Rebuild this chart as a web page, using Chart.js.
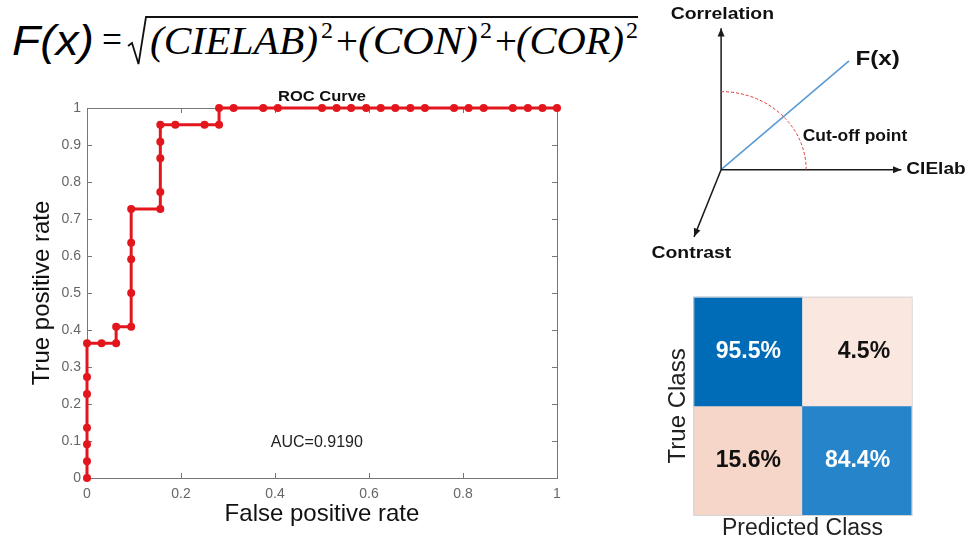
<!DOCTYPE html>
<html>
<head>
<meta charset="utf-8">
<script src="https://cdn.jsdelivr.net/npm/chart.js@4.4.1/dist/chart.umd.min.js"></script>
<style>
  html, body { margin: 0; padding: 0; background: #fff; }
  #page { position: relative; width: 968px; height: 542px; overflow: hidden; background: #fff; }
  #formula { position: absolute; left: 0; top: 0; }
  #roc { position: absolute; left: 0; top: 0; }
  #axes3d { position: absolute; left: 640px; top: 0; }
  #confusion { position: absolute; left: 660px; top: 280px; }
</style>
</head>
<body>
<div id="page">
  <svg id="formula" width="660" height="80">
    <text x="12" y="55" font-family="Liberation Sans" font-style="italic" font-size="42" textLength="82" lengthAdjust="spacingAndGlyphs">F(x)</text>
    <text x="102" y="53" font-family="Liberation Serif" font-size="40" textLength="20" lengthAdjust="spacingAndGlyphs">=</text>
    <polyline points="128,46 132,43 138.5,64 146,17 638,17" fill="none" stroke="#111" stroke-width="1.8"/>
    <text x="150" y="54" font-family="Liberation Serif" font-style="italic" font-size="39" textLength="168" lengthAdjust="spacingAndGlyphs">(CIELAB)</text>
    <text x="321" y="38" font-family="Liberation Serif" font-size="24">2</text>
    <text x="336" y="54" font-family="Liberation Serif" font-size="39">+</text>
    <text x="358" y="54" font-family="Liberation Serif" font-style="italic" font-size="39" textLength="120" lengthAdjust="spacingAndGlyphs">(CON)</text>
    <text x="480" y="38" font-family="Liberation Serif" font-size="24">2</text>
    <text x="495" y="54" font-family="Liberation Serif" font-size="39">+</text>
    <text x="516" y="54" font-family="Liberation Serif" font-style="italic" font-size="39" textLength="108" lengthAdjust="spacingAndGlyphs">(COR)</text>
    <text x="626" y="38" font-family="Liberation Serif" font-size="24">2</text>
  </svg>
  <canvas id="roc" width="580" height="542"></canvas>
  <canvas id="axes3d" width="328" height="280"></canvas>
  <canvas id="confusion" width="308" height="262"></canvas>
</div>
<script>
// ROC curve points (false positive rate / true positive rate)
const fpr = [0, 0, 0, 0, 0, 0, 0,
  0.031, 0.062, 0.062, 0.094, 0.094, 0.094, 0.094, 0.094,
  0.156, 0.156, 0.156, 0.156, 0.156,
  0.188, 0.25, 0.281, 0.281,
  0.312, 0.375, 0.406, 0.5, 0.531, 0.562, 0.594, 0.625, 0.656, 0.688, 0.719,
  0.781, 0.812, 0.844, 0.906, 0.938, 0.969, 1];
const tpr = [0, 0.045, 0.091, 0.136, 0.227, 0.273, 0.364,
  0.364, 0.364, 0.409, 0.409, 0.5, 0.591, 0.636, 0.727,
  0.727, 0.773, 0.864, 0.909, 0.955,
  0.955, 0.955, 0.955, 1,
  1, 1, 1, 1, 1, 1, 1, 1, 1, 1, 1,
  1, 1, 1, 1, 1, 1, 1];
const aucText = 'AUC=0.9190';

// schematic: axis tips (origin at 0,0), F(x) direction, cut-off arc radii
const axisNames = ['CIElab', 'Correlation', 'Contrast'];
const axisTipX = [1, 0, -0.15];
const axisTipY = [0, 1, -0.475];
const fxTip = [0.71, 0.77];
const cutoffRadius = [0.472, 0.552];

// confusion matrix (rows = true class, cols = predicted class), percent
const predictedClasses = ['1', '2'];
const cmRow1 = [95.5, 4.5];
const cmRow2 = [15.6, 84.4];

const FONT = '"Liberation Sans", Arial, sans-serif';
Chart.defaults.font.family = FONT;
const rocRed = 'rgb(226, 22, 28)';

function stretchedText(ctx, text, x, y, font, color, align, sx) {
    ctx.save();
    ctx.translate(x, y);
    ctx.scale(sx, 1);
    ctx.font = font;
    ctx.fillStyle = color;
    ctx.textAlign = align;
    ctx.textBaseline = 'middle';
    ctx.fillText(text, 0, 0);
    ctx.restore();
}

// matlab prints 0, 0.2 ... 1 (no trailing zeros)
const plainTick = v => String(Number(v.toFixed(2)));

// MATLAB style box with inward ticks, title and AUC note
const rocFrame = {
    id: 'rocFrame',
    beforeDatasetsDraw(chart) {
        const { ctx, chartArea: a, scales: { x, y } } = chart;
        ctx.save();
        ctx.strokeStyle = '#777';
        ctx.lineWidth = 1;
        ctx.strokeRect(Math.round(a.left) + 0.5, Math.round(a.top) + 0.5, Math.round(a.width), Math.round(a.height));
        ctx.beginPath();
        x.ticks.forEach(t => {
            const px = Math.round(x.getPixelForValue(t.value)) + 0.5;
            ctx.moveTo(px, a.bottom); ctx.lineTo(px, a.bottom - 5);
            ctx.moveTo(px, a.top); ctx.lineTo(px, a.top + 5);
        });
        y.ticks.forEach(t => {
            const py = Math.round(y.getPixelForValue(t.value)) + 0.5;
            ctx.moveTo(a.left, py); ctx.lineTo(a.left + 5, py);
            ctx.moveTo(a.right, py); ctx.lineTo(a.right - 5, py);
        });
        ctx.stroke();
        ctx.restore();
    },
    afterDraw(chart) {
        const { ctx, chartArea: a, scales: { x, y } } = chart;
        stretchedText(ctx, 'ROC Curve', (a.left + a.right) / 2, a.top - 11, 'bold 15px ' + FONT, '#111', 'center', 1.1);
        stretchedText(ctx, aucText, x.getPixelForValue(0.489), y.getPixelForValue(0.095), '16px ' + FONT, '#222', 'center', 1);
    }
};

new Chart(document.getElementById('roc'), {
    type: 'scatter',
    data: {
        datasets: [{
            data: fpr.map((v, i) => ({ x: v, y: tpr[i] })),
            showLine: true,
            borderColor: rocRed,
            backgroundColor: rocRed,
            borderWidth: 3,
            pointRadius: 4,
            pointHoverRadius: 4,
            pointBorderWidth: 0,
            pointBackgroundColor: rocRed,
            clip: false,
        }],
    },
    options: {
        responsive: false,
        animation: false,
        devicePixelRatio: 1,
        layout: { padding: { left: 0, right: 23, top: 108, bottom: 0 } },
        plugins: { legend: { display: false }, tooltip: { enabled: false } },
        scales: {
            x: {
                type: 'linear', min: 0, max: 1,
                ticks: { stepSize: 0.2, color: '#666', font: { size: 14 }, padding: 8, maxRotation: 0, callback: plainTick },
                grid: { display: false, drawTicks: false },
                border: { display: false },
                title: { display: true, text: 'False positive rate', color: '#111', font: { size: 24 }, padding: { top: 0, bottom: 13 } },
                afterFit: s => { s.height = 64; },
            },
            y: {
                type: 'linear', min: 0, max: 1,
                ticks: { stepSize: 0.1, color: '#666', font: { size: 14 }, padding: 6, callback: plainTick },
                grid: { display: false, drawTicks: false },
                border: { display: false },
                title: { display: true, text: 'True positive rate', color: '#111', font: { size: 24 }, padding: { top: 28, bottom: 0 } },
                afterFit: s => { s.width = 87; },
            },
        },
    },
    plugins: [rocFrame],
});

// schematic of the three feature axes
const diagramLabels = [
    { text: 'Correlation', x: 0.007, y: 1.10, size: 17, sx: 1.14, align: 'center' },
    { text: 'CIElab', x: 1.028, y: 0, size: 17, sx: 1.12, align: 'left' },
    { text: 'Contrast', x: -0.165, y: -0.589, size: 17, sx: 1.14, align: 'center' },
    { text: 'F(x)', x: 0.746, y: 0.78, size: 21, sx: 1.15, align: 'left' },
    { text: 'Cut-off point', x: 0.743, y: 0.236, size: 16, sx: 1.09, align: 'center' },
];

const diagramDecor = {
    id: 'diagramDecor',
    afterDatasetsDraw(chart) {
        const { ctx, scales: { x, y } } = chart;
        const ox = x.getPixelForValue(0), oy = y.getPixelForValue(0);
        ctx.save();
        // arrow heads
        ctx.fillStyle = '#1a1a1a';
        axisNames.forEach((n, i) => {
            const tx = x.getPixelForValue(axisTipX[i]), ty = y.getPixelForValue(axisTipY[i]);
            const ang = Math.atan2(ty - oy, tx - ox);
            ctx.beginPath();
            ctx.moveTo(tx, ty);
            ctx.lineTo(tx - 9 * Math.cos(ang - 0.4), ty - 9 * Math.sin(ang - 0.4));
            ctx.lineTo(tx - 9 * Math.cos(ang + 0.4), ty - 9 * Math.sin(ang + 0.4));
            ctx.closePath();
            ctx.fill();
        });
        // dashed cut-off arc
        const rx = x.getPixelForValue(cutoffRadius[0]) - ox;
        const ry = oy - y.getPixelForValue(cutoffRadius[1]);
        ctx.strokeStyle = '#e03a3a';
        ctx.lineWidth = 1;
        ctx.setLineDash([3, 2]);
        ctx.beginPath();
        ctx.ellipse(ox, oy, rx, ry, 0, -Math.PI / 2, 0);
        ctx.stroke();
        ctx.restore();
        diagramLabels.forEach(l => {
            stretchedText(ctx, l.text, x.getPixelForValue(l.x), y.getPixelForValue(l.y),
                'bold ' + l.size + 'px ' + FONT, '#111', l.align, l.sx);
        });
    }
};

const axisDatasets = axisNames.map((n, i) => ({
    label: n,
    data: [{ x: 0, y: 0 }, { x: axisTipX[i], y: axisTipY[i] }],
    showLine: true,
    borderColor: '#1a1a1a',
    borderWidth: 1.5,
    pointRadius: 0,
}));

new Chart(document.getElementById('axes3d'), {
    type: 'scatter',
    data: {
        datasets: [...axisDatasets, {
            label: 'F(x)',
            data: [{ x: 0, y: 0 }, { x: fxTip[0], y: fxTip[1] }],
            showLine: true,
            borderColor: '#5b9bd5',
            borderWidth: 1.6,
            pointRadius: 0,
        }],
    },
    options: {
        responsive: false,
        animation: false,
        devicePixelRatio: 1,
        layout: { padding: 0 },
        plugins: { legend: { display: false }, tooltip: { enabled: false } },
        scales: {
            x: { type: 'linear', min: -0.45, max: 1.37, display: false },
            y: { type: 'linear', min: -0.78, max: 1.2, display: false },
        },
    },
    plugins: [diagramDecor],
});

// confusion matrix as floating bars, one row per dataset
const cellColors = [['rgb(0, 108, 184)', 'rgb(249, 231, 224)'], ['rgb(245, 214, 200)', 'rgb(38, 132, 203)']];

const cellText = {
    id: 'cellText',
    afterDatasetsDraw(chart) {
        const { ctx, chartArea: a } = chart;
        ctx.save();
        ctx.strokeStyle = '#d4d4d4';
        ctx.lineWidth = 1;
        ctx.strokeRect(a.left + 0.5, a.top + 0.5, a.width, a.height);
        ctx.restore();
        [cmRow1, cmRow2].forEach((row, r) => {
            const meta = chart.getDatasetMeta(r);
            meta.data.forEach((bar, c) => {
                const cy = (bar.y + bar.base) / 2;
                stretchedText(ctx, row[c].toFixed(1) + '%', bar.x + 33, cy, 'bold 23px ' + FONT,
                    r === c ? '#fff' : '#111', 'right', 1);
            });
        });
    }
};

new Chart(document.getElementById('confusion'), {
    type: 'bar',
    data: {
        labels: predictedClasses,
        datasets: [
            { data: cmRow1.map(() => [1, 2]), backgroundColor: cellColors[0], grouped: false, barPercentage: 1, categoryPercentage: 1, borderWidth: 0 },
            { data: cmRow2.map(() => [0, 1]), backgroundColor: cellColors[1], grouped: false, barPercentage: 1, categoryPercentage: 1, borderWidth: 0 },
        ],
    },
    options: {
        responsive: false,
        animation: false,
        devicePixelRatio: 1,
        layout: { padding: { left: 0, right: 56.3, top: 16.7, bottom: 0 } },
        plugins: { legend: { display: false }, tooltip: { enabled: false } },
        scales: {
            x: {
                ticks: { display: false },
                grid: { display: false, drawTicks: false },
                border: { display: false },
                title: { display: true, text: 'Predicted Class', color: '#222', font: { size: 23 }, padding: { top: 0, bottom: 0 } },
                afterFit: s => { s.height = 27; },
            },
            y: {
                type: 'linear', min: 0, max: 2,
                ticks: { display: false },
                grid: { display: false, drawTicks: false },
                border: { display: false },
                title: { display: true, text: 'True Class', color: '#222', font: { size: 24 }, padding: { top: 4, bottom: 0 } },
                afterFit: s => { s.width = 33.3; },
            },
        },
    },
    plugins: [cellText],
});
</script>
</body>
</html>
